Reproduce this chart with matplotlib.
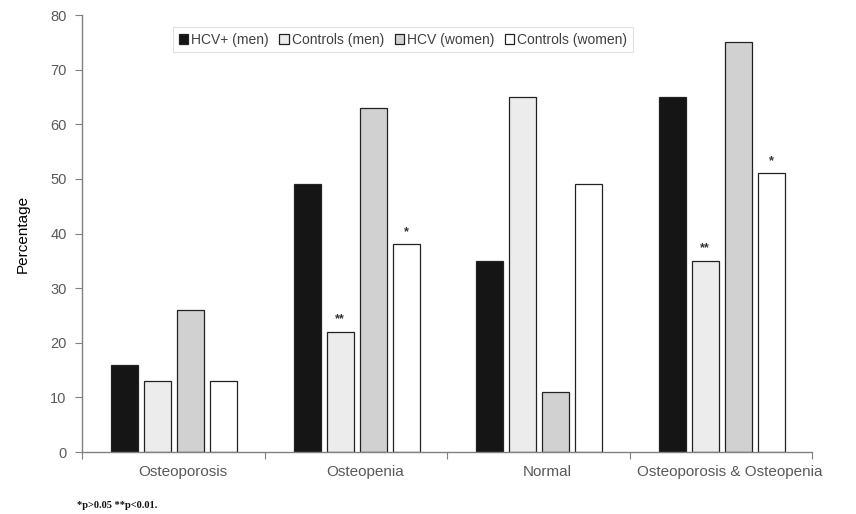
import matplotlib
matplotlib.use("Agg")
import matplotlib.pyplot as plt
import numpy as np

plt.rcParams['font.family'] = ['Liberation Sans', 'DejaVu Sans']

categories = ["Osteoporosis", "Osteopenia", "Normal", "Osteoporosis & Osteopenia"]
series_names = ["HCV+ (men)", "Controls (men)", "HCV (women)", "Controls (women)"]
hcv_men = [16, 49, 35, 65]
controls_men = [13, 22, 65, 35]
hcv_women = [26, 63, 11, 75]
controls_women = [13, 38, 49, 51]
# significance marks: (category index, series index, label)
marks = [(1, 1, "**"), (1, 3, "*"), (3, 1, "**"), (3, 3, "*")]

series = [hcv_men, controls_men, hcv_women, controls_women]
colors = ["#151515", "#ebeceb", "#d0d1d0", "#ffffff"]

fig = plt.figure(figsize=(8.56, 5.14), dpi=100)
ax = fig.add_axes([0.0958, 0.1206, 0.8528, 0.8502])

x = np.arange(len(categories))
width = 0.148
step = 0.181
first = 0.233

for j, (vals, col, name) in enumerate(zip(series, colors, series_names)):
    ax.bar(x + first + j * step, vals, width, color=col, edgecolor="#222222",
           linewidth=0.9, label=name)

for ci, sj, txt in marks:
    v = series[sj][ci]
    ax.text(ci + first + sj * step, v + 1.2, txt, ha="center", va="bottom",
            fontsize=9, color="#333333", fontweight="bold")

ax.set_xlim(0, len(categories))
ax.set_ylim(0, 80)
ax.set_yticks(np.arange(0, 81, 10))
ax.set_xticks(np.arange(0, len(categories) + 1))
ax.set_xticklabels([])
ax.set_xticks(x + 0.55, minor=True)
ax.set_xticklabels(categories, minor=True, fontsize=11, color="#595959")
ax.tick_params(axis="x", which="minor", length=0, pad=9)
ax.tick_params(axis="x", which="major", length=5, direction="out", color="#808080")
ax.tick_params(axis="y", length=5, direction="out", color="#808080",
               labelsize=10.5, labelcolor="#595959", pad=6)

for s in ["top", "right"]:
    ax.spines[s].set_visible(False)
for s in ["left", "bottom"]:
    ax.spines[s].set_color("#808080")
    ax.spines[s].set_linewidth(1)

ax.set_ylabel("Percentage", fontsize=11, labelpad=15)

leg = ax.legend(loc="center", bbox_to_anchor=(0.44, 0.943), ncol=4, fontsize=10,
                handlelength=0.65, handleheight=0.65, handletextpad=0.25,
                columnspacing=0.75, frameon=True, fancybox=False,
                borderpad=0.4)
leg.get_frame().set_edgecolor("#d9d9d9")
leg.get_frame().set_linewidth(0.8)
for t in leg.get_texts():
    t.set_color("#404040")

fig.text(0.09, 0.012, "*p>0.05 **p<0.01.", fontsize=7.5, fontweight="bold",
         family="Liberation Serif", color="#111111")

fig.savefig("out.png", dpi=100)
